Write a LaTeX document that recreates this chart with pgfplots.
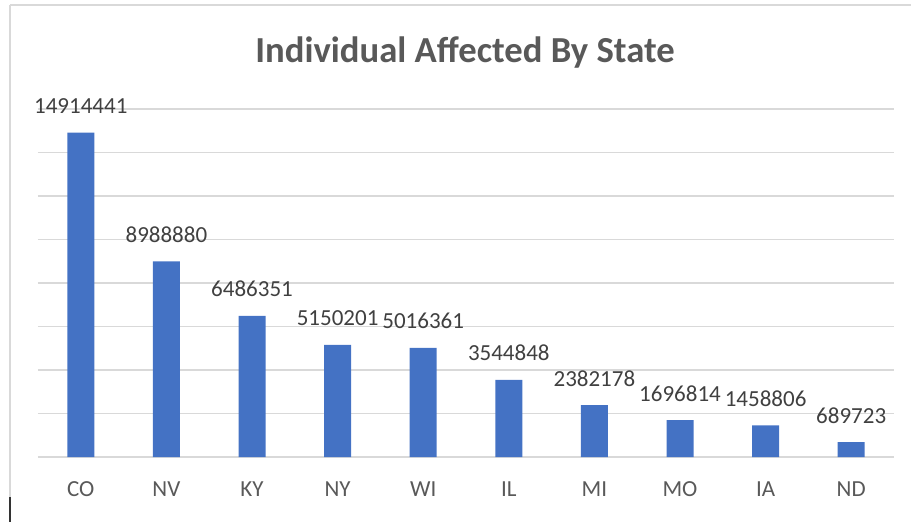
\documentclass[border=0pt]{standalone}
\usepackage{pgfplots}
\pgfplotsset{compat=1.18}
\usepackage{fontspec}
\setmainfont{Carlito}
\definecolor{barblue}{HTML}{4472C4}
\definecolor{gridgray}{HTML}{D9D9D9}
\definecolor{labgray}{HTML}{404040}
\definecolor{tickgray}{HTML}{595959}
\begin{document}
\begin{tikzpicture}
\useasboundingbox (0,0) rectangle (683.25pt,391.5pt);
\draw[color=gridgray, line width=1.5pt] (7.5pt,387.75pt) -- (683.25pt,387.75pt);
\draw[color=gridgray, line width=1.2pt] (7.5pt,387.75pt) -- (7.5pt,18.75pt);
\draw[color=black!80, line width=1.2pt] (7.5pt,18.75pt) -- (7.5pt,0pt);
\node[anchor=base, font=\fontsize{27.5}{32}\selectfont\bfseries, text=tickgray, inner sep=0pt] at (348.75pt,344.25pt) {Individual Affected By State};
\begin{axis}[
  at={(28.5pt,48.75pt)}, anchor=south west,
  scale only axis, width=642pt, height=261pt,
  xmin=-0.5, xmax=9.5, ymin=0, ymax=16000000,
  ytick distance=2000000, yticklabels={}, scaled y ticks=false,
  ymajorgrids, grid style={gridgray, line width=0.8pt},
  axis line style={draw=none},
  major tick length=0pt,
  xtick=data,
  xticklabels={CO,NV,KY,NY,WI,IL,MI,MO,IA,ND},
  xticklabel style={anchor=base, yshift=-29.25pt, font=\fontsize{17.25}{20}\selectfont, text=tickgray},
  ybar, bar width=20.25pt,
  nodes near coords,
  every node near coord/.append style={anchor=base, yshift=14.25pt, inner sep=0pt, font=\fontsize{17.25}{20}\selectfont, text=labgray},
  point meta=explicit symbolic,
  clip=false,
]
\addplot[fill=barblue, draw=none] table[meta=lab] {
x y lab
0 14914441 14914441
1 8988880 8988880
2 6486351 6486351
3 5150201 5150201
4 5016361 5016361
5 3544848 3544848
6 2382178 2382178
7 1696814 1696814
8 1458806 1458806
9 689723 689723
};
\end{axis}
\end{tikzpicture}
\end{document}
